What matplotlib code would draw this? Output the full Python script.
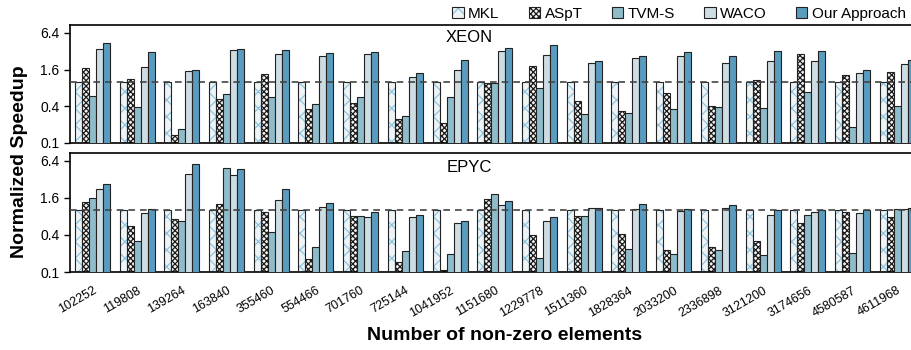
import matplotlib
matplotlib.use("Agg")
import matplotlib.pyplot as plt
import numpy as np
from matplotlib.patches import Patch
from matplotlib.legend_handler import HandlerTuple

plt.rcParams['font.family'] = ['Liberation Sans', 'DejaVu Sans']

categories = ["102252", "119808", "139264", "163840", "355460", "554466", "701760",
              "725144", "1041952", "1151680", "1229778", "1511360", "1828364",
              "2033200", "2336898", "3121200", "3174656", "4580587", "4611968"]
series = ["MKL", "ASpT", "TVM-S", "WACO", "Our Approach"]

xeon_mkl = [1.0] * 19
xeon_aspt = [1.67, 1.14, 0.137, 0.52, 1.34, 0.355, 0.46, 0.25, 0.21, 0.95, 1.82, 0.48,
             0.34, 0.66, 0.41, 1.07, 2.87, 1.29, 1.45]
xeon_tvm = [0.58, 0.39, 0.172, 0.63, 0.57, 0.435, 0.57, 0.28, 0.56, 0.95, 0.79, 0.30,
            0.31, 0.355, 0.39, 0.38, 0.69, 0.18, 0.40]
xeon_waco = [3.43, 1.78, 1.49, 3.34, 2.91, 2.70, 2.84, 1.20, 1.56, 3.26, 2.77, 2.04,
             2.44, 2.70, 2.07, 2.20, 2.20, 1.39, 1.97]
xeon_ours = [4.37, 3.10, 1.58, 3.47, 3.34, 2.98, 3.10, 1.38, 2.32, 3.61, 4.10, 2.20,
             2.66, 3.10, 2.66, 3.22, 3.22, 1.57, 2.26]

epyc_mkl = [1.0] * 19
epyc_aspt = [1.38, 0.55, 0.74, 1.28, 0.96, 0.165, 0.82, 0.147, 0.108, 1.52, 0.405, 0.80,
             0.42, 0.231, 0.258, 0.315, 0.635, 0.96, 0.78]
epyc_tvm = [1.58, 0.315, 0.68, 4.99, 0.45, 0.258, 0.82, 0.22, 0.196, 1.84, 0.171, 0.80,
            0.234, 0.194, 0.23, 0.187, 0.86, 0.206, 1.04]
epyc_waco = [2.27, 0.90, 3.99, 3.75, 1.50, 1.16, 0.77, 0.78, 0.62, 1.21, 0.68, 1.09,
             1.07, 0.98, 1.09, 0.83, 0.94, 0.90, 1.04]
epyc_ours = [2.74, 1.06, 5.80, 4.68, 2.21, 1.34, 0.96, 0.86, 0.68, 1.45, 0.78, 1.11,
             1.26, 1.06, 1.24, 1.00, 1.03, 1.02, 1.10]

panels = [("XEON", [xeon_mkl, xeon_aspt, xeon_tvm, xeon_waco, xeon_ours]),
          ("EPYC", [epyc_mkl, epyc_aspt, epyc_tvm, epyc_waco, epyc_ours])]

fills = ["#eef3f6", "#f4f4f4", "#8fbccb", "#cddde3", "#5a9cbf"]
hatches = ["xx", "xxxxxx", None, None, None]
hatch_cols = ["#8ec5e0", "#1a1a1a", None, None, None]
edge = "#222222"

W, H = 912, 350
fig = plt.figure(figsize=(W / 100, H / 100), dpi=100)
ax_top = fig.add_axes([70 / W, (H - 143) / H, 842 / W, 118 / H])
ax_bot = fig.add_axes([70 / W, (H - 272) / H, 842 / W, 119 / H])

x = np.arange(len(categories))
bw = 0.157
offsets = (np.arange(5) - 2) * bw

plt.rcParams['hatch.linewidth'] = 0.9

for ax, (name, data) in zip([ax_top, ax_bot], panels):
    ax.set_yscale('log', base=2)
    for k in range(5):
        vals = np.array(data[k])
        if hatches[k]:
            ax.bar(x + offsets[k], vals, bw, color=fills[k], hatch=hatches[k],
                   edgecolor=hatch_cols[k], linewidth=0, zorder=2)
            ax.bar(x + offsets[k], vals, bw, fill=False, edgecolor=edge,
                   linewidth=0.8, zorder=3)
        else:
            ax.bar(x + offsets[k], vals, bw, color=fills[k], edgecolor=edge,
                   linewidth=0.8, zorder=3)
    ax.axhline(1.0, color="#444444", linestyle=(0, (4, 3)), linewidth=1.2, zorder=4)
    ax.set_ylim(0.1, 8.6)
    ax.set_xlim(-0.5, 18.33)
    ax.set_yticks([0.1, 0.4, 1.6, 6.4])
    ax.set_yticklabels(["0.1", "0.4", "1.6", "6.4"])
    ax.tick_params(axis='y', labelsize=10, length=4, width=1)
    ax.tick_params(axis='y', which='minor', length=2, width=0.6)
    ax.spines['right'].set_visible(False)
    for s in ['left', 'top', 'bottom']:
        ax.spines[s].set_linewidth(1.2)
    ax.set_xticks(x)
    ax.text(0.474, 0.89 if name == "XEON" else 0.874, name, transform=ax.transAxes,
            ha='center', va='center', fontsize=12)

ax_top.tick_params(axis='x', length=0, labelbottom=False)
ax_bot.tick_params(axis='x', length=0, pad=9)
ax_bot.set_xticklabels(categories, rotation=30, ha='right', rotation_mode='anchor',
                       fontsize=9)

fig.text(20 / W, 1 - 162 / H, "Normalized Speedup", rotation=90, ha='center',
         va='center', fontsize=14, fontweight='bold')
fig.text(505 / W, 1 - 335 / H, "Number of non-zero elements", ha='center',
         va='center', fontsize=14, fontweight='bold')

handles = []
for k in range(5):
    if hatches[k]:
        h1 = Patch(facecolor=fills[k], hatch=hatches[k], edgecolor=hatch_cols[k], linewidth=0)
        h2 = Patch(fill=False, edgecolor=edge, linewidth=0.8)
        handles.append((h1, h2))
    else:
        handles.append(Patch(facecolor=fills[k], edgecolor=edge, linewidth=0.8))

fig.legend(handles, series, loc='center right', bbox_to_anchor=(0.995, 1 - 14 / H),
           ncol=5, frameon=False, fontsize=11, handlelength=0.75, handleheight=0.75,
           handletextpad=0.3, columnspacing=1.9, borderaxespad=0, borderpad=0.1,
           handler_map={tuple: HandlerTuple(ndivide=1)})

fig.savefig("out.png", dpi=100)
